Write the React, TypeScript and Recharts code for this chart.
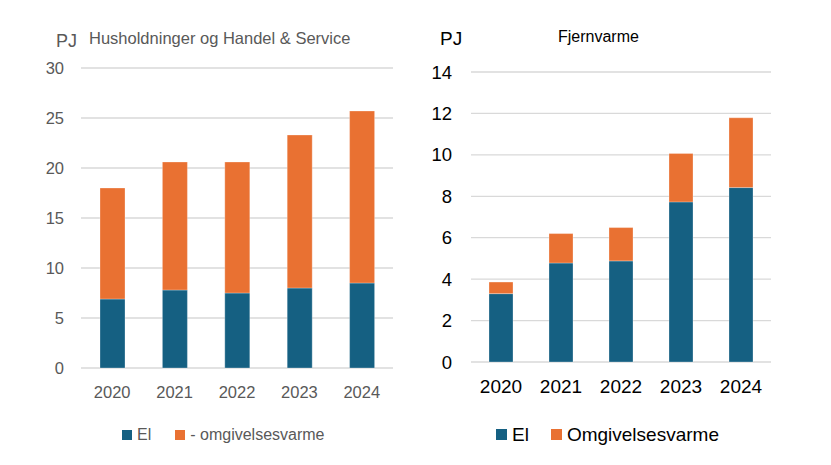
import React from "react";
import { BarChart, Bar, XAxis, YAxis, CartesianGrid } from "recharts";

const years = ["2020", "2021", "2022", "2023", "2024"];

// Husholdninger og Handel & Service
const husEl = [6.9, 7.8, 7.5, 8.0, 8.5];
const husOmg = [11.1, 12.8, 13.1, 15.3, 17.2];
const husTicks = [0, 5, 10, 15, 20, 25, 30];

// Fjernvarme
const fjvEl = [3.3, 4.78, 4.88, 7.73, 8.42];
const fjvOmg = [0.56, 1.42, 1.61, 2.34, 3.37];
const fjvTicks = [0, 2, 4, 6, 8, 10, 12, 14];

const BLUE = "#156082";
const ORANGE = "#E97132";
const FONT = "'Liberation Sans', Arial, sans-serif";

const husData = years.map((year, i) => ({ year, el: husEl[i], omg: husOmg[i] }));
const fjvData = years.map((year, i) => ({ year, el: fjvEl[i], omg: fjvOmg[i] }));

function LegendItem({ color, label, size, fontSize, textColor, gap }: any) {
  return (
    <div style={{ display: "flex", alignItems: "center", marginRight: gap }}>
      <div style={{ width: size, height: size, background: color, marginRight: 5 }} />
      <span style={{ fontSize, color: textColor, lineHeight: 1 }}>{label}</span>
    </div>
  );
}

export default function App() {
  return (
    <div
      style={{
        position: "absolute",
        left: 0,
        top: 0,
        width: 831,
        height: 465,
        background: "#fff",
        fontFamily: FONT,
        overflow: "hidden",
      }}
    >
      {/* left chart */}
      <div style={{ position: "absolute", left: 0, top: 0 }}>
        <BarChart
          width={420}
          height={465}
          data={husData}
          margin={{ top: 68, right: 27, left: 0, bottom: 0 }}
        >
          <CartesianGrid vertical={false} stroke="#D9D9D9" strokeWidth={1.3} />
          <XAxis
            dataKey="year"
            height={97}
            axisLine={false}
            tickLine={false}
            tickMargin={12}
            tick={{ fill: "#595959", fontSize: 16.5, fontFamily: FONT }}
          />
          <YAxis
            width={81}
            domain={[0, 30]}
            ticks={husTicks}
            axisLine={false}
            tickLine={false}
            tickMargin={11}
            tick={{ fill: "#595959", fontSize: 16.5, fontFamily: FONT }}
          />
          <Bar dataKey="el" stackId="a" fill={BLUE} barSize={25} stroke="#ffffff" strokeOpacity={0.4} strokeWidth={0.7} isAnimationActive={false} />
          <Bar dataKey="omg" stackId="a" fill={ORANGE} barSize={25} stroke="#ffffff" strokeOpacity={0.4} strokeWidth={0.7} isAnimationActive={false} />
        </BarChart>
      </div>
      <div style={{ position: "absolute", left: 56, top: 31, fontSize: 18, color: "#595959" }}>PJ</div>
      <div style={{ position: "absolute", left: 89, top: 29, fontSize: 16.5, color: "#595959", whiteSpace: "nowrap" }}>
        Husholdninger og Handel &amp; Service
      </div>
      <div style={{ position: "absolute", left: 122, top: 427, display: "flex" }}>
        <LegendItem color={BLUE} label="El" size={10} fontSize={16} textColor="#595959" gap={24} />
        <LegendItem color={ORANGE} label="- omgivelsesvarme" size={10} fontSize={16} textColor="#595959" gap={0} />
      </div>

      {/* right chart */}
      <div style={{ position: "absolute", left: 420, top: 0 }}>
        <BarChart
          width={411}
          height={465}
          data={fjvData}
          margin={{ top: 72, right: 60, left: 0, bottom: 0 }}
        >
          <CartesianGrid vertical={false} stroke="#D9D9D9" strokeWidth={1.3} />
          <XAxis
            dataKey="year"
            height={103}
            axisLine={false}
            tickLine={false}
            tickMargin={12}
            tick={{ fill: "#000000", fontSize: 19, fontFamily: FONT }}
          />
          <YAxis
            width={51}
            domain={[0, 14]}
            ticks={fjvTicks}
            axisLine={false}
            tickLine={false}
            tickMargin={13}
            tick={{ fill: "#000000", fontSize: 18.5, fontFamily: FONT }}
          />
          <Bar dataKey="el" stackId="b" fill={BLUE} barSize={24} stroke="#ffffff" strokeOpacity={0.4} strokeWidth={0.7} isAnimationActive={false} />
          <Bar dataKey="omg" stackId="b" fill={ORANGE} barSize={24} stroke="#ffffff" strokeOpacity={0.4} strokeWidth={0.7} isAnimationActive={false} />
        </BarChart>
      </div>
      <div style={{ position: "absolute", left: 440, top: 28, fontSize: 19, color: "#000" }}>PJ</div>
      <div style={{ position: "absolute", left: 558, top: 28, fontSize: 16, color: "#000", whiteSpace: "nowrap" }}>
        Fjernvarme
      </div>
      <div style={{ position: "absolute", left: 496, top: 425, display: "flex" }}>
        <LegendItem color={BLUE} label="El" size={11} fontSize={19} textColor="#000" gap={22} />
        <LegendItem color={ORANGE} label="Omgivelsesvarme" size={11} fontSize={19} textColor="#000" gap={0} />
      </div>
    </div>
  );
}
